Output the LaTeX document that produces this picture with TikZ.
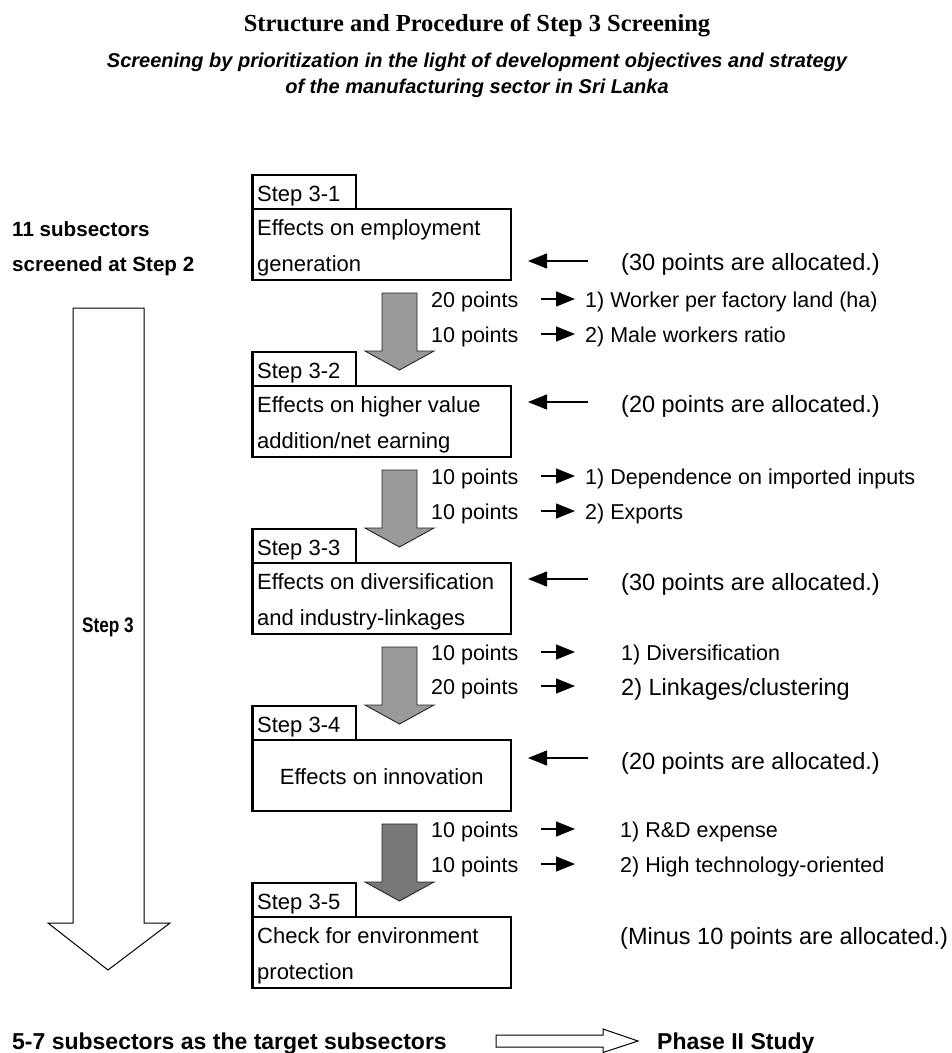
\documentclass[tikz,border=0pt]{standalone}
\usepackage{fontspec}
\newfontfamily\arial{Liberation Sans}
\newfontfamily\timesf{Liberation Serif}
\usetikzlibrary{arrows.meta,calc}
\definecolor{blockA}{gray}{0.6}
\definecolor{blockB}{gray}{0.47}

% grey block arrow pointing down: #1 = top centre of the shaft, #2 = tip, #3 = style
\newcommand\downblock[3]{%
  \draw[#3] ($(#1)+(-17.5,0)$) -- ($(#1)+(17.5,0)$) -- ($(#2)+(17.5,-19)$)
    -- ($(#2)+(34.5,-19)$) -- (#2) -- ($(#2)+(-34.5,-19)$) -- ($(#2)+(-17.5,-19)$) -- cycle;}

\begin{document}
\begin{tikzpicture}[x=1pt,y=-1pt,
  txt/.style={anchor=base west, inner sep=0pt, font=\arial\fontsize{21.5}{26}\selectfont},
  boxtxt/.style={txt, font=\arial\fontsize{22}{26}\selectfont},
  big/.style={txt, font=\arial\fontsize{23.5}{28}\selectfont},
  boldtxt/.style={txt, font=\arial\bfseries\fontsize{23}{28}\selectfont},
  labelbox/.style={draw, line width=2.8pt, outer sep=0pt, inner sep=0pt,
    minimum width=103.5pt, minimum height=34pt, anchor=north west},
  mainbox/.style={draw, line width=2.8pt, outer sep=0pt, inner sep=0pt,
    minimum width=258.5pt, minimum height=71pt, anchor=north west},
  block/.style={draw=black!85, line width=0.9pt, line join=miter},
  hollow/.style={draw, line width=1pt, fill=white, line join=miter},
  ptarrow/.style={line width=1.3pt, -{Triangle[length=19pt, width=15pt]}},
]
\useasboundingbox (0,0) rectangle (952,1053);

% headings
\node[anchor=base, inner sep=0pt, font=\timesf\bfseries\fontsize{24.5}{30}\selectfont]
  (title) at (477,31) {Structure and Procedure of Step 3 Screening};
\node[anchor=base, inner sep=0pt, font=\arial\bfseries\itshape\fontsize{20}{26}\selectfont]
  (sub1) at (477,67) {Screening by prioritization in the light of development objectives and strategy};
\node[anchor=base, inner sep=0pt, font=\arial\bfseries\itshape\fontsize{20}{26}\selectfont]
  (sub2) at (477,93) {of the manufacturing sector in Sri Lanka};

% input subsectors
\node[txt, font=\arial\bfseries\fontsize{20.6}{26}\selectfont] (in1) at (12,236) {11 subsectors};
\node[txt, font=\arial\bfseries\fontsize{20.6}{26}\selectfont] (in2) at (12,271) {screened at Step 2};

% long hollow arrow for the whole of Step 3
\draw[hollow] (73,308) -- (144,308) -- (144,923) -- (170,923) -- (108,970)
  -- (48,923) -- (73,923) -- cycle;
\node[inner sep=0pt, font=\arial\bfseries\fontsize{21}{26}\selectfont] (s3) at (108,627)
  {\scalebox{0.82}[1]{Step 3}};

% step boxes
\node[labelbox] (l1) at (252.5,175) {};
\node[mainbox]  (m1) at (252.5,209) {};
\node[labelbox] (l2) at (252.5,352) {};
\node[mainbox]  (m2) at (252.5,386) {};
\node[labelbox] (l3) at (252.5,529) {};
\node[mainbox]  (m3) at (252.5,563) {};
\node[labelbox] (l4) at (252.5,706) {};
\node[mainbox]  (m4) at (252.5,740) {};
\node[labelbox] (l5) at (252.5,883) {};
\node[mainbox]  (m5) at (252.5,917) {};

\node[boxtxt] (t1)  at (257,201) {Step 3-1};
\node[boxtxt] (t1a) at (257,235) {Effects on employment};
\node[boxtxt] (t1b) at (257,271) {generation};
\node[boxtxt] (t2)  at (257,378) {Step 3-2};
\node[boxtxt] (t2a) at (257,412) {Effects on higher value};
\node[boxtxt] (t2b) at (257,448) {addition/net earning};
\node[boxtxt] (t3)  at (257,555) {Step 3-3};
\node[boxtxt] (t3a) at (257,589) {Effects on diversification};
\node[boxtxt] (t3b) at (257,625) {and industry-linkages};
\node[boxtxt] (t4)  at (257,732) {Step 3-4};
\node[boxtxt, anchor=base] (t4a) at (381.75,784) {Effects on innovation};
\node[boxtxt] (t5)  at (257,909) {Step 3-5};
\node[boxtxt] (t5a) at (257,943) {Check for environment};
\node[boxtxt] (t5b) at (257,979) {protection};

% grey arrows between the steps
\coordinate (g1a) at ($(m1.south)+(17.75,13)$);
\coordinate (g1b) at ($(l2.north -| g1a)+(0,18)$);
\coordinate (g2a) at ($(m2.south)+(17.75,13)$);
\coordinate (g2b) at ($(l3.north -| g2a)+(0,18)$);
\coordinate (g3a) at ($(m3.south)+(17.75,13)$);
\coordinate (g3b) at ($(l4.north -| g3a)+(0,18)$);
\coordinate (g4a) at ($(m4.south)+(17.75,13)$);
\coordinate (g4b) at ($(l5.north -| g4a)+(0,18)$);
\downblock{g1a}{g1b}{block, fill=blockA}
\downblock{g2a}{g2b}{block, fill=blockA}
\downblock{g3a}{g3b}{block, fill=blockA}
\downblock{g4a}{g4b}{block, fill=blockB}

% points allocated to each step
\node[big] (a1) at (621,270) {(30 points are allocated.)};
\node[big] (a2) at (621,412) {(20 points are allocated.)};
\node[big] (a3) at (621,590) {(30 points are allocated.)};
\node[big] (a4) at (621,769) {(20 points are allocated.)};
\node[big] (a5) at (620,944) {(Minus 10 points are allocated.)};

\coordinate (la1) at (588,261); \coordinate (lb1) at (528,261);
\coordinate (la2) at (588,402); \coordinate (lb2) at (528,402);
\coordinate (la3) at (588,579); \coordinate (lb3) at (528,579);
\coordinate (la4) at (588,758); \coordinate (lb4) at (528,758);
\draw[ptarrow] (la1) -- (lb1);
\draw[ptarrow] (la2) -- (lb2);
\draw[ptarrow] (la3) -- (lb3);
\draw[ptarrow] (la4) -- (lb4);

% criteria and their points
\node[txt] (p11) at (431,307) {20 points};
\node[txt] (p12) at (431,342) {10 points};
\node[txt] (p21) at (431,484) {10 points};
\node[txt] (p22) at (431,519) {10 points};
\node[txt] (p31) at (431,660) {10 points};
\node[txt] (p32) at (431,694) {20 points};
\node[txt] (p41) at (431,837) {10 points};
\node[txt] (p42) at (431,872) {10 points};

\node[txt] (c11) at (585,307) {1) Worker per factory land (ha)};
\node[txt] (c12) at (585,342) {2) Male workers ratio};
\node[txt] (c21) at (585,484) {1) Dependence on imported inputs};
\node[txt] (c22) at (585,519) {2) Exports};
\node[txt] (c31) at (621,660) {1) Diversification};
\node[big] (c32) at (621,695) {2) Linkages/clustering};
\node[txt] (c41) at (620,837) {1) R\&D expense};
\node[txt] (c42) at (620,872) {2) High technology-oriented};

\foreach \r/\y in {11/299, 12/334, 21/476, 22/511, 31/652, 32/686, 41/829, 42/864} {
  \coordinate (ra\r) at (541,\y);
  \coordinate (rb\r) at (575,\y);
  \draw[ptarrow] (ra\r) -- (rb\r);
}

% result of the screening
\node[boldtxt] (out) at (12,1049) {5-7 subsectors as the target subsectors};
\node[boldtxt] (ph2) at (657,1049) {Phase II Study};
\draw[hollow] (496,1035) -- (603,1035) -- (603,1029) -- (638,1041) -- (603,1052.5)
  -- (603,1047) -- (496,1047) -- cycle;

\end{tikzpicture}
\end{document}
